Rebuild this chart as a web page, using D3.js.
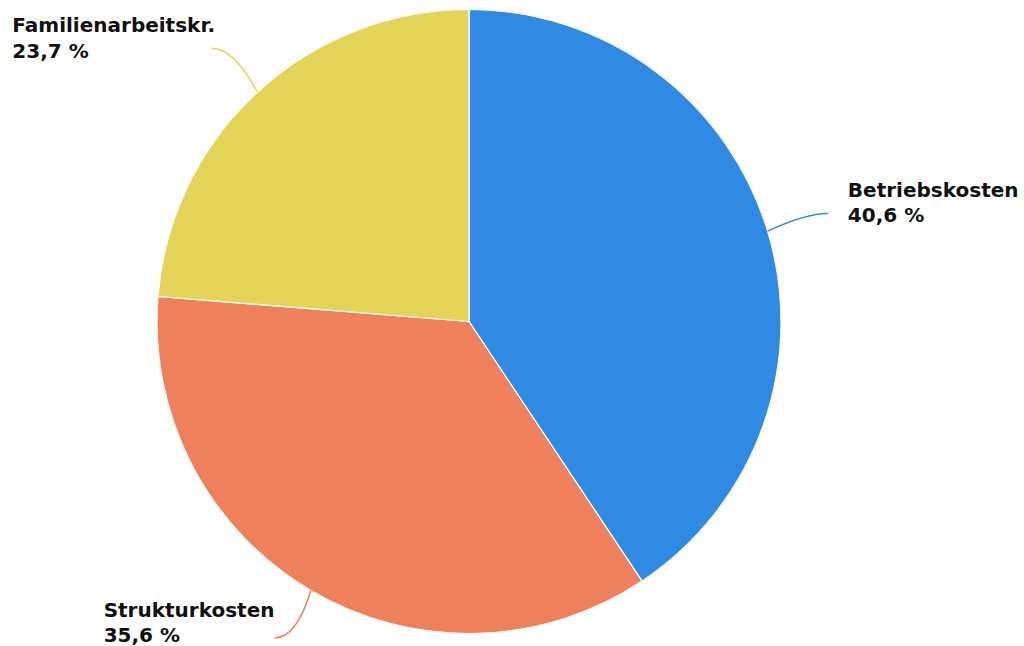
<!DOCTYPE html>
<html>
<head>
<meta charset="utf-8">
<script src="https://cdn.jsdelivr.net/npm/d3@7"></script>
<style>
  html, body { margin: 0; padding: 0; background: #ffffff; }
  svg { display: block; }
  text { font-family: "DejaVu Sans", Verdana, sans-serif; font-weight: bold; fill: #111; }
</style>
</head>
<body>
<svg id="chart" width="1024" height="646"></svg>
<script>
const categories = ["Betriebskosten", "Strukturkosten", "Familienarbeitskr."];
const values = [40.6, 35.6, 23.7];
const valueLabels = ["40,6 %", "35,6 %", "23,7 %"];
const colors = ["#2e8ae2", "#ef805c", "#e3d357"];

const W = 1024, H = 646;
const cx = 469, cy = 321.5, R = 312;

const svg = d3.select("#chart");
const g = svg.append("g").attr("transform", `translate(${cx},${cy})`);

const pie = d3.pie().sort(null).value(d => d.v);
const data = categories.map((c, i) => ({ c, v: values[i], lab: valueLabels[i], col: colors[i] }));
const arcs = pie(data);
const arc = d3.arc().innerRadius(0).outerRadius(R);

g.selectAll("path.slice").data(arcs).enter().append("path")
  .attr("class", "slice")
  .attr("d", arc)
  .attr("fill", d => d.data.col)
  .attr("stroke", "#ffffff")
  .attr("stroke-width", 1.2)
  .attr("stroke-linejoin", "round");

// label layout (distance beyond the pie edge and small adjustments)
const labelDist = [64, 62, 64];
const labelShift = [[-1, 1], [-5, -6], [-2, 3]];
const fontSize = 20;
const lineGap = 25.5;

arcs.forEach((a, i) => {
  const mid = (a.startAngle + a.endAngle) / 2;
  const sx = Math.sin(mid), sy = -Math.cos(mid);
  const p0 = [R * sx, R * sy];
  const d = R + labelDist[i];
  const p1 = [d * sx + labelShift[i][0], d * sy + labelShift[i][1]];
  const right = sx > 0;
  const ctrl = [p1[0] + (right ? -22 : 22), p1[1]];
  g.append("path")
    .attr("d", `M${p0[0]},${p0[1]} Q${ctrl[0]},${ctrl[1]} ${p1[0]},${p1[1]}`)
    .attr("fill", "none")
    .attr("stroke", a.data.col)
    .attr("stroke-width", 1.5);

  const t = g.append("text").style("font-size", fontSize + "px");
  const l1 = t.append("tspan").text(a.data.c);
  const l2 = t.append("tspan").text(a.data.lab);
  const w = Math.max(l1.node().getComputedTextLength(), l2.node().getComputedTextLength());
  let x0, y0;
  if (right) {
    x0 = p1[0] + 20;
    y0 = p1[1] - 17;
  } else if (sy < 0) {
    // upper-left label: block sits above connector end
    x0 = p1[0] + 3 - w;
    y0 = p1[1] - 16;
  } else {
    x0 = p1[0] - w;
    y0 = p1[1] - 21;
  }
  l1.attr("x", x0).attr("y", y0);
  l2.attr("x", x0).attr("y", y0 + lineGap);
});
</script>
</body>
</html>
